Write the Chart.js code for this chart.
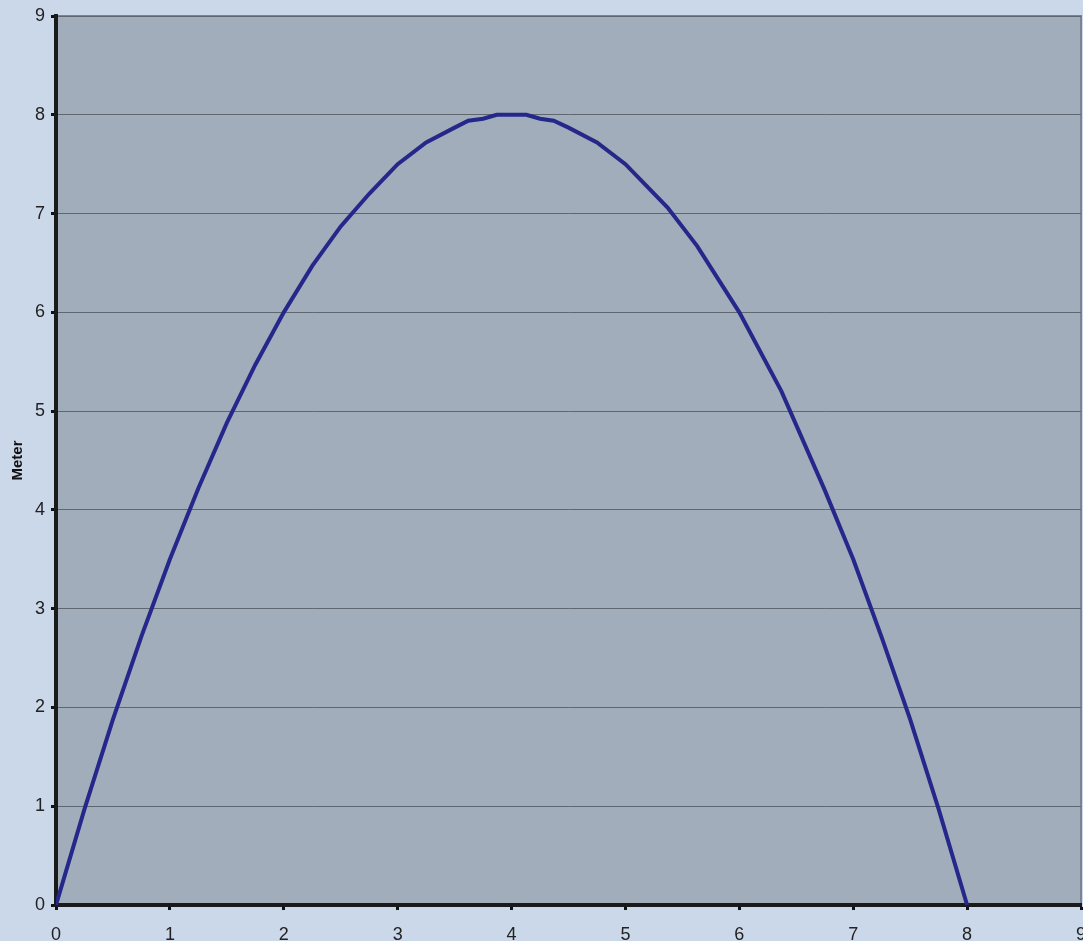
<!DOCTYPE html>
<html>
<head>
<meta charset="utf-8">
<script src="https://cdn.jsdelivr.net/npm/chart.js@4"></script>
<style>
  html, body { margin: 0; padding: 0; background: #cbd8ea; }
  #wrap { width: 1083px; height: 941px; }
</style>
</head>
<body>
<div id="wrap"><canvas id="flugbahn"></canvas></div>
<script>
// Werte
const distanz = [0, 0.25, 0.5, 0.75, 1, 1.25, 1.5, 1.75, 2, 2.25, 2.5, 2.75, 3, 3.25, 3.5, 3.62, 3.75, 3.87,
                 4.13, 4.25, 4.37, 4.5, 4.75, 5, 5.37, 5.63, 6, 6.37, 6.75, 7, 7.25, 7.5, 7.75, 8];
const hoehe = [0, 0.97, 1.88, 2.72, 3.5, 4.22, 4.88, 5.47, 6.0, 6.47, 6.87, 7.2, 7.5, 7.72, 7.87, 7.94, 7.96, 8.0,
               8.0, 7.96, 7.94, 7.87, 7.72, 7.5, 7.06, 6.67, 6.0, 5.2, 4.2, 3.5, 2.71, 1.88, 0.97, 0];
const achsenTicks = [0, 1, 2, 3, 4, 5, 6, 7, 8, 9];

const punkte = distanz.map((x, i) => ({ x: x, y: hoehe[i] }));

// Hintergrund und Rahmen der Zeichenfläche
const plotHintergrund = {
  id: "plotHintergrund",
  beforeDraw(chart) {
    const ctx = chart.ctx, a = chart.chartArea;
    ctx.save();
    ctx.fillStyle = "#cbd8ea";
    ctx.fillRect(0, 0, chart.width, chart.height);
    ctx.fillStyle = "#a1adbb";
    ctx.fillRect(a.left, a.top, a.right - a.left, a.bottom - a.top);
    ctx.strokeStyle = "#7b8390";
    ctx.lineWidth = 2;
    ctx.beginPath();
    ctx.moveTo(a.left, a.top);
    ctx.lineTo(a.right, a.top);
    ctx.lineTo(a.right, a.bottom);
    ctx.stroke();
    ctx.restore();
  }
};

new Chart(document.getElementById("flugbahn"), {
  type: "scatter",
  data: {
    datasets: [{
      label: "Meter",
      data: punkte,
      showLine: true,
      borderColor: "#25288a",
      borderWidth: 4,
      pointRadius: 0,
      tension: 0
    }]
  },
  options: {
    responsive: true,
    maintainAspectRatio: false,
    animation: false,
    layout: { padding: { top: 16, right: 2, left: 0, bottom: 0 } },
    plugins: { legend: { display: false }, tooltip: { enabled: false } },
    scales: {
      x: {
        type: "linear",
        min: 0, max: 9,
        afterBuildTicks: s => { s.ticks = achsenTicks.map(v => ({ value: v })); },
        afterFit: s => { s.height = 36; s.paddingLeft = 0; s.paddingRight = 0; },
        grid: { drawOnChartArea: false, drawTicks: true, tickLength: 5, tickColor: "#111", tickWidth: 3 },
        border: { color: "#1a1a1a", width: 4 },
        ticks: { color: "#222", padding: 14, font: { family: "Liberation Sans, Arial", size: 18 } }
      },
      y: {
        type: "linear",
        min: 0, max: 9,
        afterBuildTicks: s => { s.ticks = achsenTicks.map(v => ({ value: v })); },
        afterFit: s => { s.width = 56; s.paddingTop = 0; s.paddingBottom = 0; },
        grid: { color: "#5f6670", lineWidth: 1, drawTicks: true, tickLength: 5, tickColor: "#111", tickWidth: 3 },
        border: { color: "#1a1a1a", width: 4 },
        ticks: { color: "#222", padding: 6, font: { family: "Liberation Sans, Arial", size: 18 } },
        title: {
          display: true,
          text: "Meter",
          color: "#111",
          padding: { top: 9, bottom: 0 },
          font: { family: "Liberation Sans Narrow, Liberation Sans, Arial", size: 15, weight: "bold" }
        }
      }
    }
  },
  plugins: [plotHintergrund]
});
</script>
</body>
</html>
